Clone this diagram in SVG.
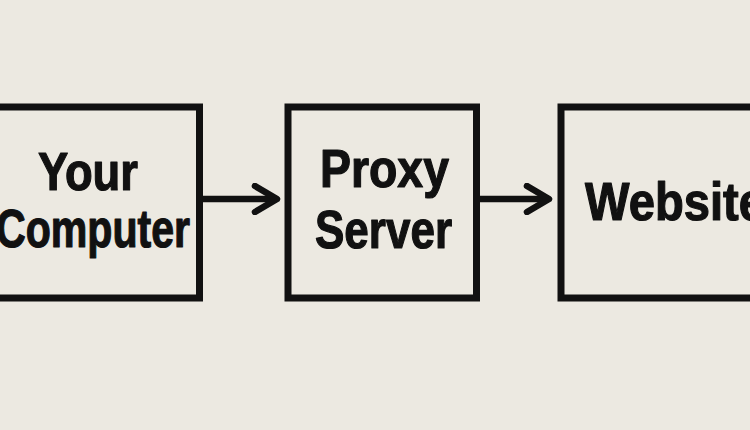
<svg xmlns="http://www.w3.org/2000/svg" width="750" height="430" viewBox="0 0 750 430">
  <style>
    .box { fill: none; stroke: #111; stroke-width: 7; }
    .lbl { font-family: "Liberation Sans", Arial, sans-serif; font-weight: bold; font-size: 53px; fill: #111; stroke: #111; stroke-width: 1.2; stroke-linejoin: round; }
    .conn { fill: none; stroke: #111; stroke-width: 6.5; }
    .head { fill: none; stroke: #111; stroke-width: 6.5; stroke-linecap: round; stroke-linejoin: round; }
  </style>
  <defs>
    <marker id="chev" viewBox="0 0 32 32" refX="27" refY="16" markerWidth="32" markerHeight="32" markerUnits="userSpaceOnUse" orient="auto">
      <path class="head" d="M5,3 L27,16 L5,29"/>
    </marker>
  </defs>
  <rect width="750" height="430" fill="#ece9e1"/>
  <g id="connectors">
    <path class="conn" d="M203,199 L277,199" marker-end="url(#chev)"/>
    <path class="conn" d="M480,199 L549,199" marker-end="url(#chev)"/>
  </g>
  <g id="your-computer">
    <rect class="box" x="-10" y="107" width="209.5" height="191"/>
    <text class="lbl" x="38" y="190" textLength="100" lengthAdjust="spacingAndGlyphs">Your</text>
    <text class="lbl" x="-4" y="247" textLength="194" lengthAdjust="spacingAndGlyphs">Computer</text>
  </g>
  <g id="proxy-server">
    <rect class="box" x="288" y="107" width="188.5" height="191"/>
    <text class="lbl" x="320" y="187" textLength="129" lengthAdjust="spacingAndGlyphs">Proxy</text>
    <text class="lbl" x="315" y="248" textLength="137" lengthAdjust="spacingAndGlyphs">Server</text>
  </g>
  <g id="website">
    <rect class="box" x="561" y="107" width="210" height="191"/>
    <text class="lbl" x="585" y="220" textLength="180" lengthAdjust="spacingAndGlyphs">Website</text>
  </g>
</svg>
